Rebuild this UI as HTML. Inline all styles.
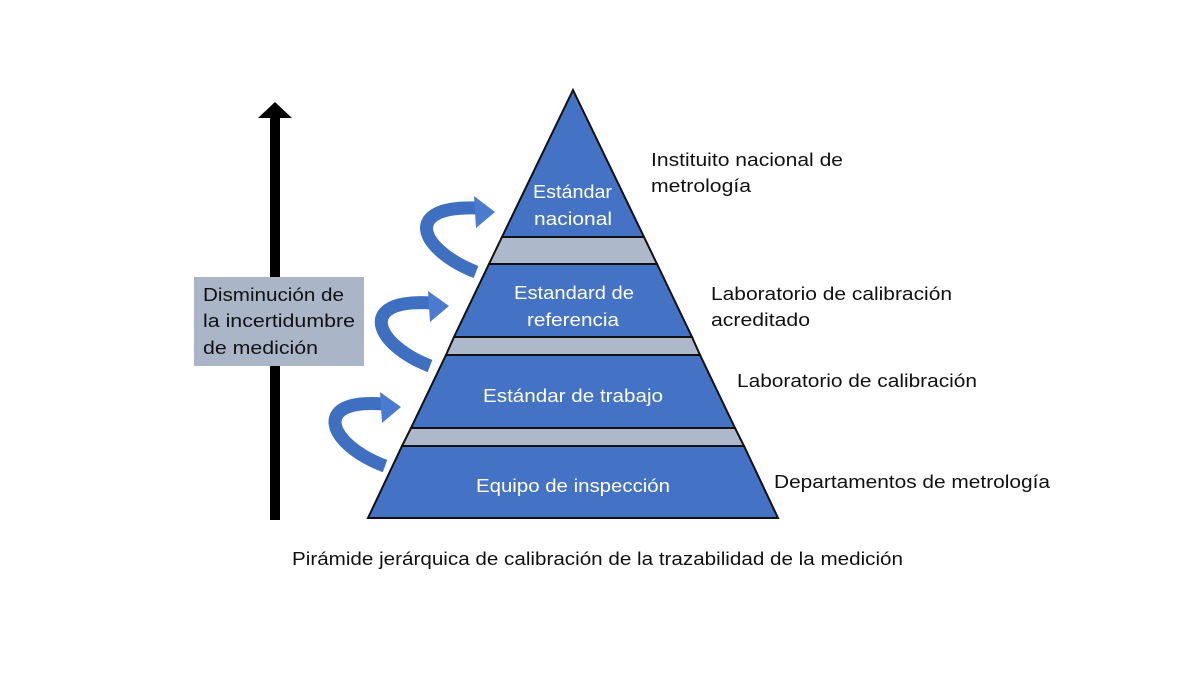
<!DOCTYPE html>
<html><head><meta charset="utf-8"><style>
html,body{margin:0;padding:0;background:#fff;}
svg{display:block;font-family:"Liberation Sans","DejaVu Sans",sans-serif;}
</style></head><body>
<svg width="1200" height="675" viewBox="0 0 1200 675" xmlns="http://www.w3.org/2000/svg">
<rect width="1200" height="675" fill="#fff"/>
<rect x="270" y="115" width="10" height="405" fill="#000"/>
<polygon points="275,102 292,118 258,118" fill="#000"/>
<rect x="194" y="277" width="170" height="89" fill="#aab5c8"/>
<g font-size="18" fill="#111" lengthAdjust="spacingAndGlyphs">
<text x="203" y="301" textLength="141" lengthAdjust="spacingAndGlyphs">Disminución de</text>
<text x="203" y="327" textLength="152" lengthAdjust="spacingAndGlyphs">la incertidumbre</text>
<text x="203" y="354" textLength="115" lengthAdjust="spacingAndGlyphs">de medición</text>
</g>
<g stroke="#111" stroke-width="2">
<polygon points="573,90 644,237 502,237" fill="#4472c4"/>
<polygon points="502,237 644,237 657,264 489,264" fill="#adb9ca"/>
<polygon points="489,264 657,264 692,337 454,337" fill="#4472c4"/>
<polygon points="454,337 692,337 700,355 446,355" fill="#adb9ca"/>
<polygon points="446,355 700,355 735,428 411,428" fill="#4472c4"/>
<polygon points="411,428 735,428 744,446 402,446" fill="#adb9ca"/>
<polygon points="402,446 744,446 778,518 368,518" fill="#4472c4"/>
</g>
<g fill="#fff" font-size="18">
<text x="533" y="198" textLength="79" lengthAdjust="spacingAndGlyphs">Estándar</text>
<text x="534" y="225" textLength="78" lengthAdjust="spacingAndGlyphs">nacional</text>
<text x="514" y="299" textLength="120" lengthAdjust="spacingAndGlyphs">Estandard de</text>
<text x="527" y="326" textLength="92" lengthAdjust="spacingAndGlyphs">referencia</text>
<text x="483" y="402" textLength="180" lengthAdjust="spacingAndGlyphs">Estándar de trabajo</text>
<text x="476" y="492" textLength="194" lengthAdjust="spacingAndGlyphs">Equipo de inspección</text>
</g>
<g fill="none" stroke="#3f6fc0" stroke-width="13">
<path d="M476,272 C420,250 400,205 478,208"/>
<path d="M430,366 C375,345 355,298 432,303"/>
<path d="M385,466 C330,446 308,398 384,404"/>
</g>
<g fill="#4a7bd0">
<polygon points="474,196 495,212 476,228"/>
<polygon points="428,291 449,306 430,322"/>
<polygon points="380,392 401,407 382,423"/>
</g>
<g font-size="18" fill="#111">
<text x="651" y="166" textLength="192" lengthAdjust="spacingAndGlyphs">Instituito nacional de</text>
<text x="651" y="192" textLength="100" lengthAdjust="spacingAndGlyphs">metrología</text>
<text x="711" y="300" textLength="241" lengthAdjust="spacingAndGlyphs">Laboratorio de calibración</text>
<text x="711" y="326" textLength="99" lengthAdjust="spacingAndGlyphs">acreditado</text>
<text x="737" y="387" textLength="240" lengthAdjust="spacingAndGlyphs">Laboratorio de calibración</text>
<text x="774" y="488" textLength="276" lengthAdjust="spacingAndGlyphs">Departamentos de metrología</text>
<text x="292" y="565" textLength="611" lengthAdjust="spacingAndGlyphs">Pirámide jerárquica de calibración de la trazabilidad de la medición</text>
</g>
</svg>
</body></html>
